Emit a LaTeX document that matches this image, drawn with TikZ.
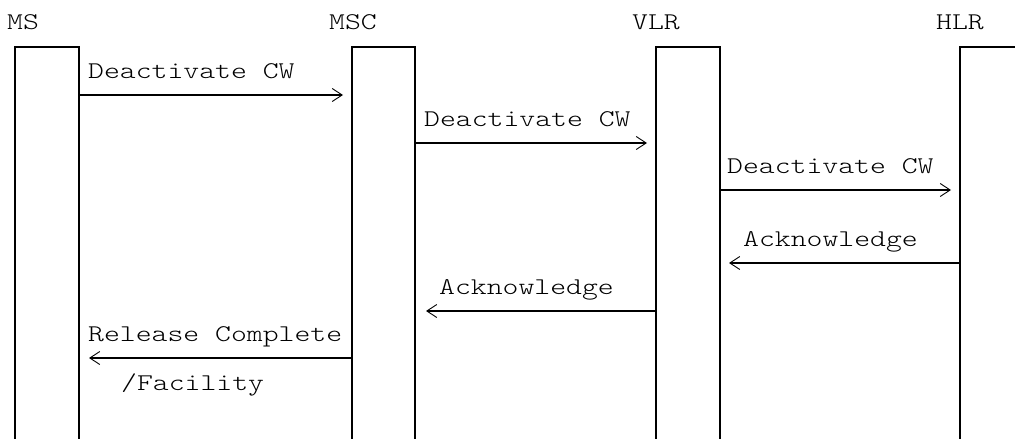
\documentclass[tikz,border=0pt]{standalone}
\usepackage{fontspec}
\usetikzlibrary{arrows.meta}
\newfontfamily\cour[FakeStretch=1.26]{lmmonolt10-regular.otf}

\tikzset{
  lbl/.style={font=\cour\fontsize{24}{24}\selectfont, inner sep=0pt, anchor=base west},
  side/.style={line width=1.3pt},
  top/.style={line width=2.2pt},
  msg/.style={line width=1.7pt, -{Straight Barb[length=10pt,width=13pt,line width=0.9pt]}},
}

\begin{document}
\begin{tikzpicture}[x=1pt,y=-1pt]
  \useasboundingbox (0,0) rectangle (1015,439);

  % lifelines
  \node[lbl] (ms)  at (7,29)   {MS};
  \node[lbl] (msc) at (329,29) {MSC};
  \node[lbl] (vlr) at (632,29) {VLR};
  \node[lbl] (hlr) at (936,29) {HLR};
  \foreach \l/\r in {15/79, 352/415, 656/720} {
    \draw[side] (\l,46) -- (\l,439);
    \draw[side] (\r,46) -- (\r,439);
    \draw[top] (\l,47) -- (\r,47);
  }
  \draw[side] (960,46) -- (960,439);
  \draw[top] (960,47) -- (1016,47);

  % messages
  \foreach \n/\xa/\xb/\y in {1/79/343/95, 2/415/647/143, 3/720/951/190,
                             4/960/729/263, 5/656/426/311, 6/352/89/358} {
    \coordinate (s\n) at (\xa,\y);
    \coordinate (e\n) at (\xb,\y);
    \draw[msg] (s\n) -- (e\n);
  }
  \node[lbl] (t1) at (88,78)   {Deactivate CW};
  \node[lbl] (t2) at (424,126) {Deactivate CW};
  \node[lbl] (t3) at (727,173) {Deactivate CW};
  \node[lbl] (t4) at (743,246) {Acknowledge};
  \node[lbl] (t5) at (439,294) {Acknowledge};
  \node[lbl] (t6) at (88,341)  {Release Complete};
  \node[lbl] (t7) at (121,390) {/Facility};
\end{tikzpicture}
\end{document}
